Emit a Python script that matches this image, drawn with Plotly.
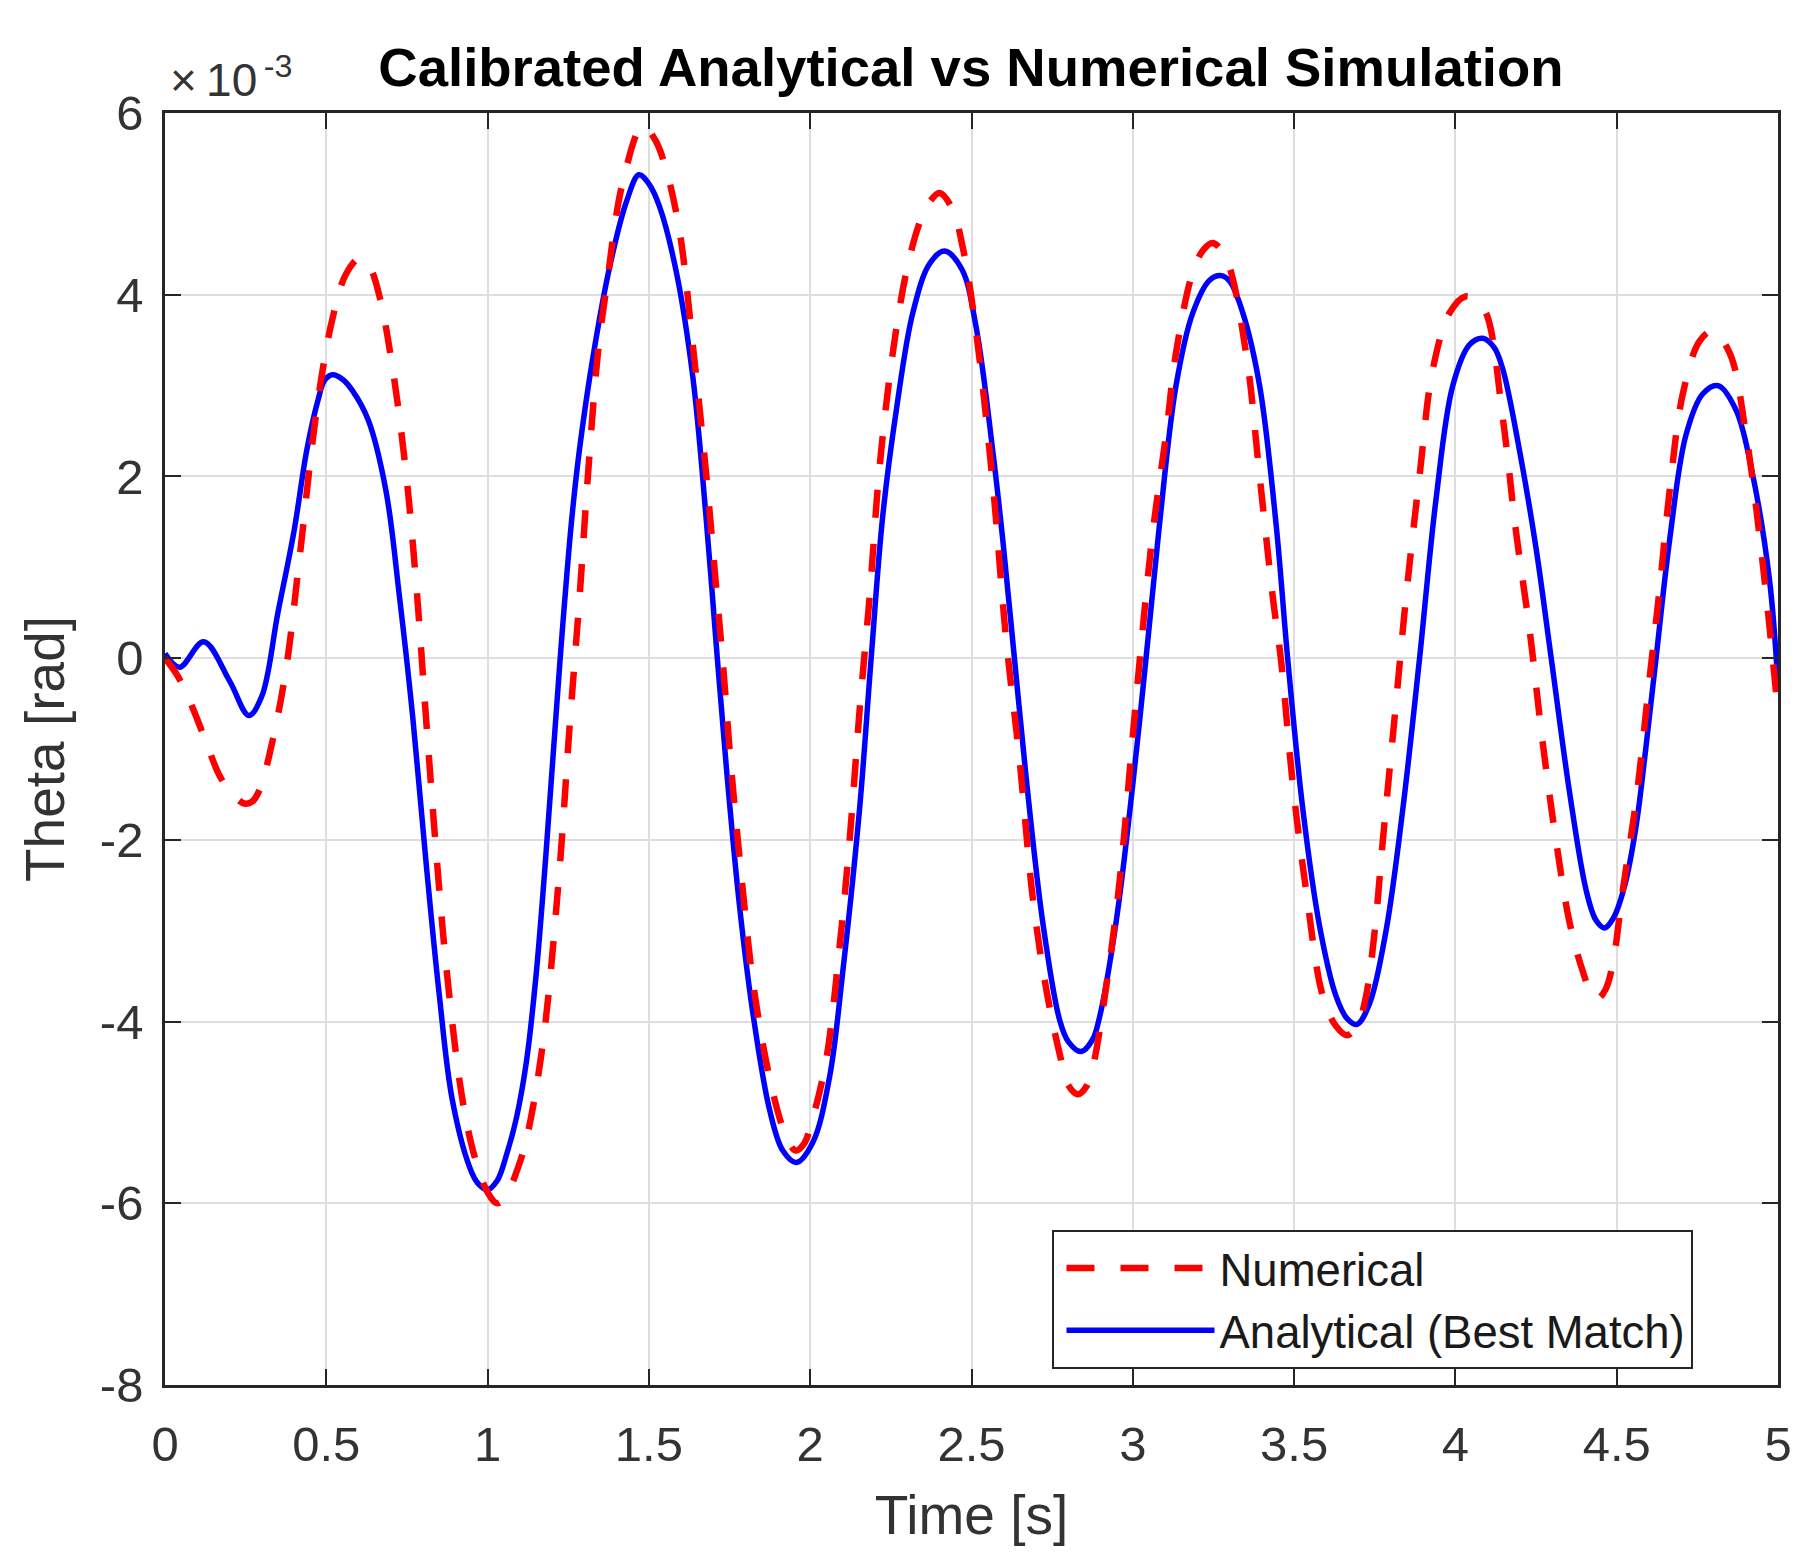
import plotly.graph_objects as go

# ---- data (Theta in units of 1e-3 rad) ----
t_analytical = [0, 0.045, 0.12, 0.20, 0.26, 0.30, 0.35, 0.40, 0.44, 0.475, 0.495, 0.52, 0.55, 0.58,
                0.63, 0.685, 0.727, 0.768, 0.81, 0.85, 0.89, 0.944, 0.97, 1.0, 1.03, 1.06, 1.09,
                1.12, 1.15, 1.18, 1.225, 1.26, 1.285, 1.326, 1.378, 1.43, 1.469, 1.50, 1.533,
                1.585, 1.636, 1.676, 1.712, 1.745, 1.781, 1.822, 1.874, 1.915, 1.957, 2.008, 2.06,
                2.101, 2.153, 2.189, 2.225, 2.267, 2.318, 2.37, 2.416, 2.47, 2.514, 2.566, 2.597,
                2.633, 2.669, 2.721, 2.773, 2.80, 2.84, 2.875, 2.897, 2.948, 3.0, 3.041, 3.083,
                3.134, 3.186, 3.238, 3.274, 3.30, 3.341, 3.393, 3.444, 3.48, 3.527, 3.579, 3.63,
                3.665, 3.695, 3.734, 3.785, 3.837, 3.889, 3.94, 3.992, 4.044, 4.085, 4.12, 4.147,
                4.199, 4.25, 4.297, 4.354, 4.405, 4.435, 4.462, 4.49, 4.525, 4.56, 4.59, 4.622,
                4.664, 4.715, 4.767, 4.814, 4.87, 4.922, 4.974, 5.0]
theta_analytical = [0.05, -0.1, 0.18, -0.25, -0.63, -0.42, 0.5, 1.4, 2.3, 2.85, 3.06, 3.12, 3.07, 2.95,
                    2.62, 1.84, 0.67, -0.65, -2.28, -3.7, -4.85, -5.6, -5.78, -5.85, -5.75, -5.45, -5.05,
                    -4.45, -3.5, -2.2, 0.0, 1.5, 2.3, 3.3, 4.3, 5.02, 5.32, 5.22, 4.97,
                    4.25, 3.1, 1.6, 0.0, -1.4, -2.73, -3.9, -4.97, -5.42, -5.55, -5.33, -4.61,
                    -3.45, -1.66, 0.0, 1.57, 2.73, 3.8, 4.34, 4.48, 4.28, 3.65, 2.28, 1.3,
                    0.0, -1.3, -2.91, -3.98, -4.22, -4.33, -4.2, -3.95, -2.91, -1.39, 0.0, 1.48,
                    3.0, 3.8, 4.16, 4.21, 4.15, 3.8, 3.0, 1.48, 0.0, -1.66, -2.95, -3.72,
                    -3.97, -4.03, -3.8, -3.0, -1.66, 0.0, 1.75, 3.0, 3.45, 3.52, 3.42, 3.18,
                    2.28, 1.21, 0.0, -1.48, -2.55, -2.88, -2.97, -2.86, -2.5, -1.85, -1.0, 0.0,
                    1.3, 2.46, 2.91, 3.0, 2.73, 2.01, 0.85, -0.3]

t_numerical = [0, 0.04, 0.086, 0.13, 0.17, 0.21, 0.246, 0.27, 0.293, 0.334, 0.376, 0.417, 0.458, 0.49,
               0.52, 0.56, 0.603, 0.635, 0.665, 0.706, 0.748, 0.779, 0.81, 0.841, 0.872, 0.913, 0.94,
               0.965, 1.0, 1.03, 1.06, 1.09, 1.12, 1.171, 1.222, 1.254, 1.285, 1.311, 1.342, 1.368,
               1.419, 1.481, 1.52, 1.554, 1.595, 1.636, 1.678, 1.709, 1.729, 1.755, 1.791, 1.822,
               1.863, 1.905, 1.93, 1.955, 1.98, 2.005, 2.049, 2.091, 2.122, 2.153, 2.184, 2.215,
               2.256, 2.298, 2.339, 2.37, 2.401, 2.44, 2.473, 2.514, 2.566, 2.607, 2.649, 2.69,
               2.731, 2.773, 2.80, 2.83, 2.855, 2.876, 2.917, 2.959, 3.0, 3.021, 3.062, 3.103,
               3.134, 3.186, 3.22, 3.248, 3.29, 3.351, 3.393, 3.434, 3.46, 3.496, 3.537, 3.589,
               3.63, 3.665, 3.70, 3.723, 3.75, 3.775, 3.816, 3.847, 3.889, 3.93, 3.982, 4.03,
               4.06, 4.095, 4.147, 4.188, 4.23, 4.271, 4.312, 4.354, 4.395, 4.42, 4.44, 4.465,
               4.488, 4.519, 4.56, 4.602, 4.633, 4.664, 4.705, 4.757, 4.798, 4.85, 4.901, 4.953,
               5.0]
theta_numerical = [0.0, -0.2, -0.55, -0.95, -1.3, -1.5, -1.6, -1.58, -1.45, -0.9, -0.1, 1.1, 2.4, 3.2,
                   3.75, 4.22, 4.4, 4.3, 3.98, 3.18, 2.01, 0.8, -0.7, -2.15, -3.4, -4.65, -5.2,
                   -5.55, -5.88, -6.0, -5.9, -5.65, -5.3, -4.25, -2.37, -0.76, 0.67, 2.01, 3.36, 4.07,
                   5.24, 5.86, 5.7, 5.37, 4.7, 3.45, 2.01, 0.76, -0.04, -1.21, -2.55, -3.55,
                   -4.43, -5.06, -5.3, -5.42, -5.35, -5.1, -4.43, -3.18, -2.01, -0.58, 0.67, 2.1,
                   3.36, 4.25, 4.79, 5.02, 5.12, 4.95, 4.52, 3.6, 1.92, 0.22, -1.12, -2.64,
                   -3.63, -4.35, -4.7, -4.8, -4.72, -4.5, -3.63, -2.46, -0.85, -0.04, 1.39, 2.46,
                   3.36, 4.25, 4.5, 4.57, 4.39, 3.36, 2.01, 0.67, -0.04, -1.39, -2.55, -3.72,
                   -4.05, -4.15, -4.0, -3.72, -3.0, -2.01, -0.49, 0.67, 2.01, 3.18, 3.8, 3.98,
                   3.95, 3.8, 2.64, 1.39, 0.31, -0.94, -2.01, -2.91, -3.45, -3.68, -3.75, -3.65,
                   -3.36, -2.55, -1.57, -0.22, 0.76, 1.84, 2.91, 3.49, 3.6, 3.36, 2.46, 1.03,
                   -0.6]

x_tick_vals = [0, 0.5, 1, 1.5, 2, 2.5, 3, 3.5, 4, 4.5, 5]
x_tick_text = ["0", "0.5", "1", "1.5", "2", "2.5", "3", "3.5", "4", "4.5", "5"]
y_tick_vals = [-8, -6, -4, -2, 0, 2, 4, 6]
y_tick_text = ["-8", "-6", "-4", "-2", "0", "2", "4", "6"]

FONT = "Liberation Sans, Arial, Helvetica, sans-serif"
AX = "#262626"
TXT = "#333333"
GRID = "#dedede"

fig = go.Figure()
fig.add_trace(go.Scatter(
    x=t_analytical, y=theta_analytical, mode="lines", name="Analytical (Best Match)",
    line=dict(color="#0000ff", width=5.5, shape="spline", smoothing=1.0)))
fig.add_trace(go.Scatter(
    x=t_numerical, y=theta_numerical, mode="lines", name="Numerical",
    line=dict(color="#ff0000", width=6.5, dash="28px,26px", shape="spline", smoothing=1.0)))

axis_common = dict(
    showline=True, linecolor=AX, linewidth=2.5, mirror="ticks",
    ticks="inside", ticklen=16, tickwidth=2, tickcolor=AX,
    showgrid=True, gridcolor=GRID, gridwidth=2, zeroline=False,
    tickfont=dict(family=FONT, size=49, color=TXT),
)

fig.update_layout(
    width=1820, height=1567,
    paper_bgcolor="white", plot_bgcolor="white",
    margin=dict(l=165, r=42, t=113, b=182, pad=0),
    title=dict(text="<b>Calibrated Analytical vs Numerical Simulation</b>",
               font=dict(family=FONT, size=54.5, color="#000000"),
               x=0.5335, xanchor="center", y=1 - 67 / 1567, yanchor="middle"),
    xaxis=dict(range=[0, 5], tickvals=x_tick_vals, ticktext=x_tick_text, ticklabelstandoff=14,
               title=dict(text="Time [s]", font=dict(family=FONT, size=55, color=TXT), standoff=26),
               **axis_common),
    yaxis=dict(range=[-8, 6], tickvals=y_tick_vals, ticktext=y_tick_text, ticklabelstandoff=9,
               title=dict(text="Theta [rad]", font=dict(family=FONT, size=55, color=TXT), standoff=18),
               **axis_common),
    legend=dict(x=0.5496, y=0.1219, xanchor="left", yanchor="top",
                bgcolor="white", bordercolor=AX, borderwidth=2,
                font=dict(family=FONT, size=45.5, color="#1a1a1a"),
                itemwidth=148, indentation=8, traceorder="reversed", tracegroupgap=0),
    showlegend=True,
)

fig.add_annotation(text="×\u200910<sup>\u2009-3</sup>",
                   xref="paper", yref="paper",
                   x=0.002, y=1.004, xanchor="left", yanchor="bottom", showarrow=False,
                   font=dict(family=FONT, size=46, color=TXT))

fig.write_html("out.html")
